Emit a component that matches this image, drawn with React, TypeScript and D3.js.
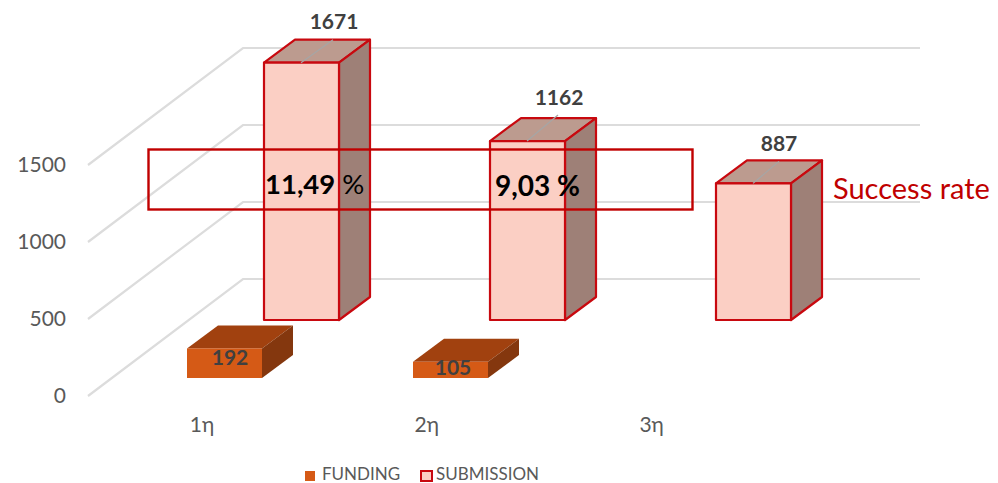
import React from "react";
import * as d3 from "d3";

const categories = ["1η", "2η", "3η"];
const funding: (number | null)[] = [192, 105, null];
const submission = [1671, 1162, 887];
const yTicks = [0, 500, 1000, 1500];
const rates = ["11,49", "9,03"];
const legendItems = ["FUNDING", "SUBMISSION"];

const W = 998, H = 483;
const FONT = "Lato, 'Open Sans', sans-serif";
const y = d3.scaleLinear().domain([0, 1500]).range([0, 231]);
const x = d3.scaleBand<string>().domain(categories).range([187, 187 + 226 * 3]);
const DX = 31, DY = 23, BW = 75;
// label placement relative to each bar
const subLabelOffset = [[70, -34], [69, -36], [63, -32]];
const leaderEnd = [[69, -23], [68, -26], [63, -22]];
const fundLabelOffset = [[43, 365], [40, 375]];

function Box({ left, base, h, front, top, side, stroke, sw }: any) {
  const r = left + BW, t = base - h;
  const topPts = [[left, t], [r, t], [r + DX, t - DY], [left + DX, t - DY]];
  const sidePts = [[r, t], [r + DX, t - DY], [r + DX, base - DY], [r, base]];
  return (
    <g stroke={stroke} strokeWidth={sw} strokeLinejoin="round">
      <polygon points={topPts.join(" ")} fill={top} />
      <polygon points={sidePts.join(" ")} fill={side} />
      <rect x={left} y={t} width={BW} height={h} fill={front} />
    </g>
  );
}

export default function App() {
  return (
    <svg width={W} height={H} style={{ position: "absolute", left: 0, top: 0, background: "#fff" }} fontFamily={FONT}>
      {yTicks.map((t) => {
        const yb = 279 - y(t), yf = 396 - y(t);
        return (
          <g key={t}>
            <path d={`M88,${yf}L243,${yb}L920,${yb}`} fill="none" stroke="#dcdcdc" strokeWidth={2.2} />
            <text x={66} y={yf + 7} fontSize={21} fill="#595959" textAnchor="end">{t}</text>
          </g>
        );
      })}

      {categories.map((c, i) => (
        <text key={c} x={x(c)! + 15 - i * 1.2} y={432} fontSize={21} fill="#595959" textAnchor="middle">{c}</text>
      ))}

      {submission.map((v, i) => {
        const left = x(categories[i])! + 77;
        const t = 320 - y(v);
        return (
          <g key={i}>
            <Box left={left} base={320} h={y(v)} front="#fbcfc4" top="#bc9b8f" side="#9e8077" stroke="#c8090f" sw={2.2} />
            <line x1={left + 37} y1={t} x2={left + leaderEnd[i][0]} y2={t + leaderEnd[i][1]} stroke="#a6a6a6" strokeWidth={1.2} />
            <text x={left + subLabelOffset[i][0]} y={t + subLabelOffset[i][1]} fontSize={21} fontWeight={700} fill="#404040" textAnchor="middle">{v}</text>
          </g>
        );
      })}

      {funding.map((v, i) => {
        if (v == null) return null;
        const left = x(categories[i])!;
        return (
          <g key={i}>
            <Box left={left} base={378} h={y(v)} front="#d55a16" top="#a1410f" side="#84370e" stroke="none" sw={0} />
            <text x={left + fundLabelOffset[i][0]} y={fundLabelOffset[i][1]} fontSize={21} fontWeight={700} fill="#404040" textAnchor="middle">{v}</text>
          </g>
        );
      })}

      <rect x={148.5} y={149.5} width={544} height={60} fill="none" stroke="#c00000" strokeWidth={2.4} />
      <text x={265} y={194} fontSize={27.5} fill="#000"><tspan fontWeight={700}>{rates[0]}</tspan> %</text>
      <text x={495} y={196} fontSize={28} fontWeight={700} fill="#000">{rates[1]} %</text>
      <text x={833} y={199} fontSize={29} fill="#c00000">Success rate</text>

      <rect x={305} y={471} width={10} height={10} fill="#d55a16" />
      <text x={322} y={480} fontSize={17} fill="#595959">{legendItems[0]}</text>
      <rect x={421} y={471} width={11} height={10} fill="#fbcfc4" stroke="#c8090f" strokeWidth={2} />
      <text x={436} y={480} fontSize={17} fill="#595959">{legendItems[1]}</text>
    </svg>
  );
}
